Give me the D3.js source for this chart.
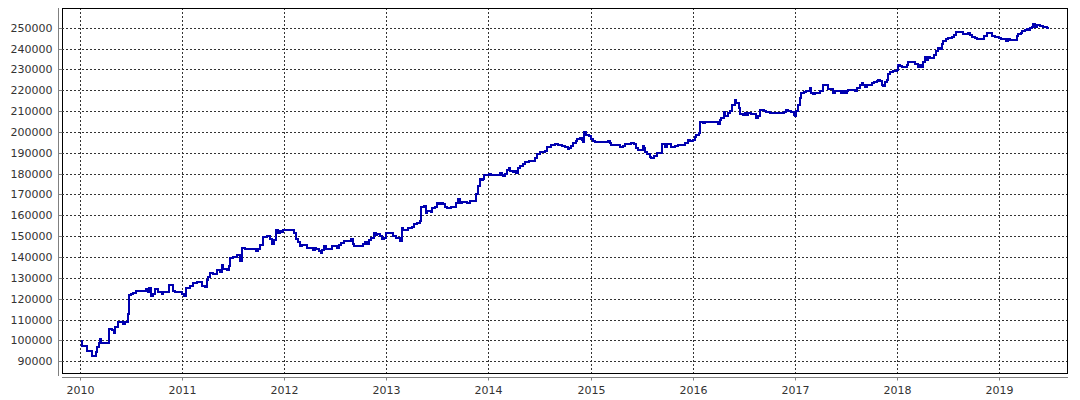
<!DOCTYPE html>
<html>
<head>
<meta charset="utf-8">
<script src="https://cdn.jsdelivr.net/npm/d3@7"></script>
<style>
  html, body { margin: 0; padding: 0; background: #fff; }
  svg { display: block; }
  text { font-family: "DejaVu Sans", Verdana, sans-serif; font-size: 11px; fill: #333; }
</style>
</head>
<body>
<svg id="chart" width="1080" height="400"></svg>
<script>
// Decimal-year time stamps of each equity step
const dates = [
  2010.000,2010.010,2010.016,2010.065,2010.114,2010.147,2010.157,2010.183,2010.193,2010.199,
  2010.281,2010.304,2010.330,2010.336,2010.363,2010.418,2010.434,2010.460,2010.477,2010.493,
  2010.516,2010.542,2010.640,2010.656,2010.670,2010.689,2010.705,2010.728,2010.754,2010.794,
  2010.803,2010.869,2010.901,2010.924,2010.990,2011.016,2011.032,2011.071,2011.104,2011.137,
  2011.186,2011.218,2011.234,2011.251,2011.267,2011.300,2011.332,2011.365,2011.381,2011.398,
  2011.430,2011.457,2011.463,2011.496,2011.528,2011.561,2011.577,2011.610,2011.718,2011.741,
  2011.760,2011.790,2011.822,
  2011.859,2011.876,2011.892,2011.915,2011.931,2011.948,2011.967,2011.984,2012.088,2012.105,
  2012.131,2012.144,2012.170,2012.219,2012.278,2012.294,2012.310,2012.333,2012.350,2012.366,
  2012.382,2012.399,2012.415,2012.464,2012.513,2012.529,2012.546,2012.578,2012.644,2012.667,
  2012.676,2012.768,2012.784,2012.807,2012.824,2012.846,2012.873,2012.889,2012.905,2012.928,
  2012.948,2012.971,2012.987,2013.062,2013.085,2013.127,2013.144,2013.160,2013.209,2013.248,
  2013.265,2013.297,2013.320,2013.330,2013.363,2013.379,2013.395,2013.428,2013.444,2013.467,
  2013.487,2013.510,2013.526,2013.552,2013.569,2013.592,2013.624,2013.673,2013.696,2013.716,
  2013.739,2013.788,2013.814,
  2013.871,2013.877,2013.893,2013.909,2013.926,2013.942,2013.951,2014.000,2014.016,2014.107,
  2014.123,2014.139,2014.155,2014.178,2014.194,2014.210,2014.233,2014.252,2014.269,2014.285,
  2014.307,2014.330,2014.350,2014.388,2014.453,2014.469,2014.502,2014.550,2014.566,2014.608,
  2014.647,2014.680,2014.712,2014.744,2014.770,2014.783,2014.803,2014.825,2014.848,2014.867,
  2014.890,2014.913,2014.922,2014.932,2014.955,2014.977,2014.997,2015.019,2015.036,2015.165,
  2015.188,2015.197,2015.288,2015.311,2015.333,2015.392,2015.417,2015.440,2015.463,2015.505,
  2015.521,2015.531,2015.553,2015.579,2015.592,2015.618,2015.650,
  2015.673,2015.699,2015.722,2015.745,2015.781,2015.820,2015.853,2015.918,2015.935,2015.951,
  2015.967,2016.000,2016.016,2016.033,2016.056,2016.072,2016.098,2016.114,2016.245,2016.261,
  2016.278,2016.301,2016.310,2016.327,2016.343,2016.366,2016.386,2016.408,2016.425,2016.448,
  2016.464,2016.490,2016.507,2016.523,2016.539,2016.572,2016.621,2016.637,2016.660,2016.693,
  2016.719,2016.752,2016.889,2016.908,2016.931,2016.964,2016.987,2016.997,2017.013,2017.029,
  2017.046,2017.062,2017.085,2017.111,2017.144,2017.160,2017.176,2017.193,2017.216,2017.242,
  2017.275,2017.324,2017.366,2017.373,2017.389,2017.448,2017.464,2017.487,2017.503,2017.520,
  2017.585,2017.601,2017.634,2017.650,2017.667,2017.683,2017.706,2017.748,2017.775,2017.797,
  2017.814,2017.830,2017.846,2017.863,2017.879,2017.895,2017.912,2017.928,2017.961,2017.993,
  2018.010,2018.026,2018.042,2018.092,2018.108,2018.141,2018.173,2018.199,2018.222,2018.239,
  2018.248,2018.271,2018.288,2018.304,2018.320,2018.363,2018.376,2018.395,2018.418,2018.441,
  2018.451,2018.474,2018.500,2018.533,2018.556,2018.575,2018.647,2018.690,2018.712,2018.735,
  2018.761,2018.778,2018.853,2018.876,2018.931,2018.958,2019.000,2019.013,2019.062,2019.082,
  2019.105,2019.170,2019.186,2019.212,2019.225,2019.252,2019.268,2019.284,2019.301,2019.317,
  2019.333,2019.350,2019.366,2019.399,2019.431,2019.464,2019.480
];

// Equity values at each step
const equity = [
  100000,99000,97700,95300,92700,94500,97300,99100,100900,99100,
  105500,105000,103600,106800,109200,108000,109200,112700,122000,122400,
  123100,124000,124700,123500,125200,121500,122300,124700,123500,122300,
  123500,126800,124000,123500,122500,121500,125200,126400,127600,128400,
  126100,125800,129200,130700,132700,132300,134000,133000,136300,134600,
  134200,135900,139600,140300,141000,138400,144700,143900,143000,143900,
  145900,149900,150200,
  148800,146700,148400,153200,151900,152800,152400,153200,151900,148700,
  147500,145500,145900,144800,143500,144800,143900,143200,142400,143500,
  145500,143900,144300,145500,144800,145900,147200,147900,148800,146700,
  145500,146400,147500,146400,148400,149600,152000,150800,151200,150300,
  148700,149600,151600,150300,149600,148000,154000,153200,154300,154800,
  155900,156700,157500,164400,164700,161200,162500,162000,163600,164400,
  166300,165700,166300,165700,164400,163600,164100,166000,167900,166300,
  166800,166000,167300,
  168600,170600,174100,177800,177000,177800,179700,180000,179700,180500,
  179700,179200,180000,182100,182900,181300,181000,181600,180500,182900,
  184100,184800,185700,186300,187900,189500,190500,191100,192900,194000,
  194300,194000,193500,192900,192100,192400,193600,194900,196000,196800,
  197100,196200,195600,200000,199000,198400,196800,195900,195600,195900,
  194800,194000,193200,193500,194300,194800,194300,192700,191600,193600,
  192700,190800,189500,188400,187600,188900,190000,
  190200,194400,193100,194400,193100,193400,193900,195000,194700,196300,
  195800,196300,198000,198800,199900,205000,204500,204800,204200,205800,
  206900,209700,207700,208000,209300,210200,213400,215500,214200,211800,
  209000,208500,209300,208500,209300,208900,206900,207700,211000,210200,
  209700,209300,209700,211000,210200,209800,208500,208000,210200,213400,
  216700,218800,219400,219900,221500,219100,218300,218800,219100,219900,
  222700,220700,220400,218800,219900,218800,219900,218800,219900,220400,
  220000,221300,222900,223700,222900,221600,222600,223700,224100,224500,
  225300,224500,222900,222400,224000,225300,228000,228900,229300,230000,
  232400,232100,231600,232400,233700,234000,232800,231600,232400,231600,
  234000,236000,234800,236400,235600,237200,239100,240400,239900,242300,
  243900,244900,245500,246000,246800,248100,247100,247600,246800,246000,
  245500,244900,246500,247600,246500,246000,245500,244700,243900,244900,
  244400,246500,247100,247600,248700,249200,249700,249200,250000,250800,
  251900,250800,251600,251300,250800,250300,249700
];

const xTicks = [2010, 2011, 2012, 2013, 2014, 2015, 2016, 2017, 2018, 2019];
const yTicks = [90000, 100000, 110000, 120000, 130000, 140000, 150000, 160000,
                170000, 180000, 190000, 200000, 210000, 220000, 230000, 240000, 250000];

const svg = d3.select("#chart");
const L = 62, R = 1068, T = 8, B = 373;

const x = d3.scaleLinear().domain([2009.817, 2019.673]).range([L, R]);
const y = d3.scaleLinear().domain([84600, 259700]).range([B, T]);
const px = v => Math.floor(v) + 0.5;

// grid
const grid = svg.append("g").attr("stroke", "#333").attr("stroke-dasharray", "2,2")
  .attr("shape-rendering", "crispEdges");
grid.selectAll("line.h").data(yTicks).join("line")
  .attr("x1", L).attr("x2", R).attr("y1", d => px(y(d))).attr("y2", d => px(y(d)));
grid.selectAll("line.v").data(xTicks).join("line")
  .attr("y1", T).attr("y2", B).attr("x1", d => px(x(d))).attr("x2", d => px(x(d)));

// frame
svg.append("rect").attr("x", L + 0.5).attr("y", T + 0.5)
  .attr("width", R - L - 1).attr("height", B - T)
  .attr("fill", "none").attr("stroke", "#000").attr("shape-rendering", "crispEdges");

// left axis
const yAxis = d3.axisLeft(y).tickValues(yTicks).tickSize(4).tickPadding(2).tickFormat(d3.format("d"));
const gy = svg.append("g").attr("transform", "translate(58.5,0)").call(yAxis);
gy.select(".domain").attr("d", `M0,${T}V${B + 3}`).attr("stroke", "#808080");
gy.selectAll(".tick").attr("transform", d => `translate(0,${px(y(d))})`);
gy.selectAll(".tick line").attr("x2", 4).attr("stroke", "#808080");
gy.selectAll(".tick text").attr("x", -6).attr("dy", "0.32em")
  .attr("font-family", null).attr("font-size", null).attr("fill", null);
gy.attr("font-family", null).attr("font-size", null);

// bottom axis
const xAxis = d3.axisBottom(x).tickValues(xTicks).tickSize(3).tickFormat(d3.format("d"));
const gx = svg.append("g").attr("transform", "translate(0,377.5)").call(xAxis);
gx.select(".domain").attr("d", `M${L},0H${R}`).attr("stroke", "#808080");
gx.selectAll(".tick").attr("transform", d => `translate(${px(x(d))},0)`);
gx.selectAll(".tick line").attr("stroke", "#808080");
gx.selectAll(".tick text").attr("y", 16).attr("dy", 0)
  .attr("font-family", null).attr("font-size", null).attr("fill", null);
gx.attr("font-family", null).attr("font-size", null);

// equity line
const pts = dates.map((d, i) => [d, equity[i]]);
const line = d3.line().x(d => x(d[0])).y(d => y(d[1])).curve(d3.curveStepAfter);
svg.append("path").datum(pts).attr("d", line)
  .attr("fill", "none").attr("stroke", "#0000b0").attr("stroke-width", 2)
  .attr("shape-rendering", "crispEdges");
</script>
</body>
</html>
